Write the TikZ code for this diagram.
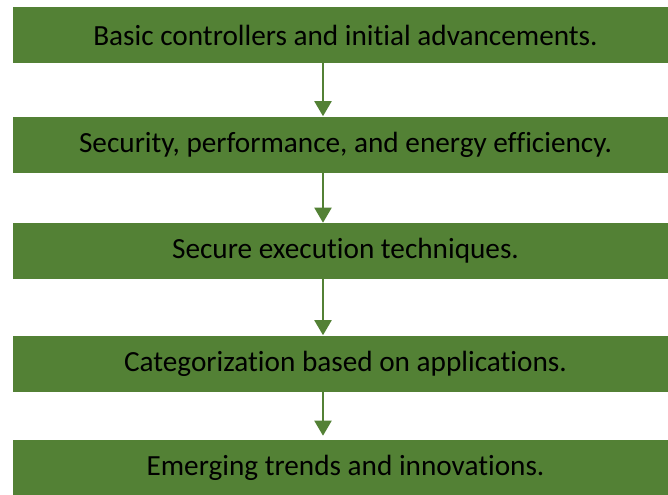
\documentclass[tikz,border=0pt]{standalone}
\usepackage{fontspec}
\setmainfont{Carlito}[Ligatures={NoCommon}]
\usetikzlibrary{arrows.meta}

\definecolor{hojas}{HTML}{538135}

\tikzset{
  etapa/.style={fill=hojas, minimum width=16.625cm, minimum height=1.4cm,
    inner sep=0pt, font=\fontsize{20.8}{24}\selectfont, text=black},
  flecha/.style={draw=hojas, line width=0.05cm,
    -{Triangle[width=0.425cm,length=0.375cm]}, fill=hojas}
}

\begin{document}
\begin{tikzpicture}[scale=1]
    % Marco
    \clip (0,0) rectangle (16.7,-12.375);

    % Etapas
    \node[etapa] (b1) at (8.6375,-0.875) {Basic controllers and initial advancements.};
    \node[etapa] (b2) at (8.6375,-3.6125) {Security, performance, and energy efficiency.};
    \node[etapa] (b3) at (8.6375,-6.275) {Secure execution techniques.};
    \node[etapa] (b4) at (8.6375,-9.0875) {Categorization based on applications.};
    \node[etapa] (b5) at (8.6375,-11.7) {Emerging trends and innovations.};

    % Flechas
    \coordinate (eje) at (8.075,0);
    \draw[flecha] (b1.south -| eje) -- (b2.north -| eje);
    \draw[flecha] (b2.south -| eje) -- (b3.north -| eje);
    \draw[flecha] (b3.south -| eje) -- (b4.north -| eje);
    \draw[flecha] (b4.south -| eje) -- ([yshift=0.1cm]b5.north -| eje);
\end{tikzpicture}
\end{document}
